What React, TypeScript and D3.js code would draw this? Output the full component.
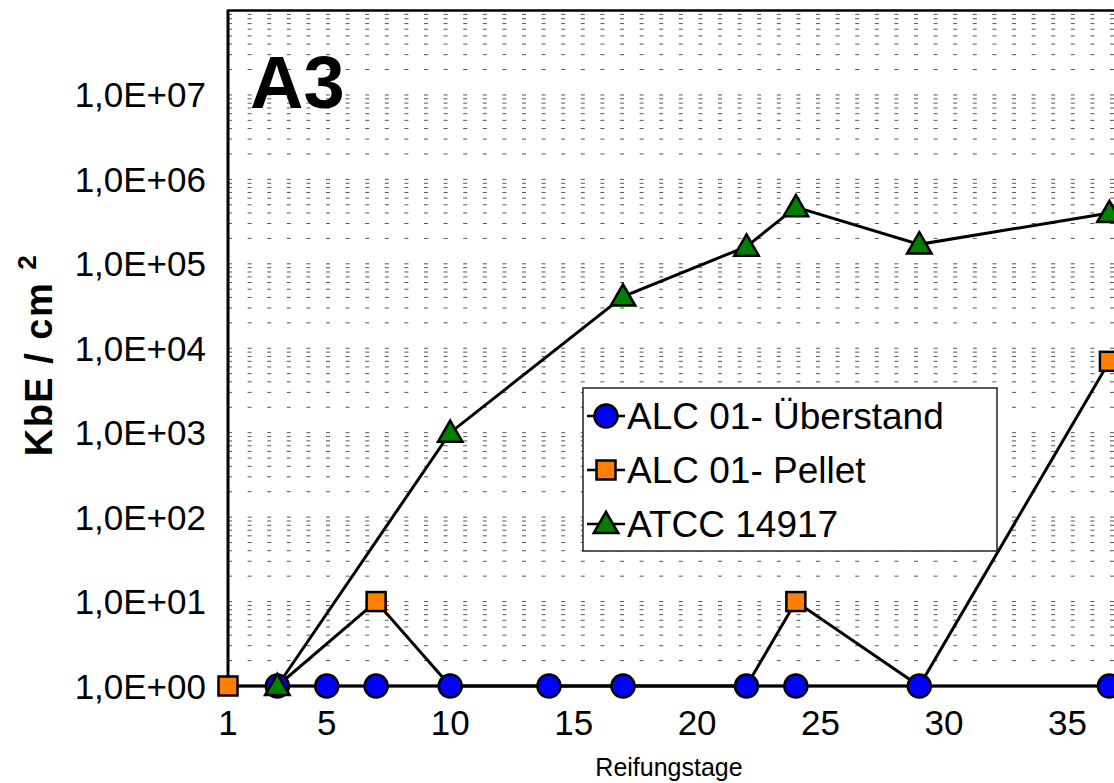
import React from "react";
import * as d3 from "d3";

// Ripening days and colony counts (KbE / cm²) per series
const ueberstandDays = [3, 5, 7, 10, 14, 17, 22, 24, 29, 36.7];
const ueberstandValues = [1, 1, 1, 1, 1, 1, 1, 1, 1, 1];

// 0 = not detected: drawn on the baseline, no marker
const pelletDays = [1, 3, 7, 10, 14, 17, 22, 24, 29, 36.7];
const pelletValues = [1, 0, 10, 0, 0, 0, 0, 10, 0, 7000];

const atccDays = [3, 10, 17, 22, 24, 29, 36.7];
const atccValues = [1, 1000, 41000, 160000, 470000, 170000, 400000];

const xTickValues = [1, 5, 10, 15, 20, 25, 30, 35];
const yTickValues = [1e0, 1e1, 1e2, 1e3, 1e4, 1e5, 1e6, 1e7];
const yTickLabels = [
  "1,0E+00",
  "1,0E+01",
  "1,0E+02",
  "1,0E+03",
  "1,0E+04",
  "1,0E+05",
  "1,0E+06",
  "1,0E+07",
];

const legendNames = ["ALC 01- Überstand", "ALC 01- Pellet", "ATCC 14917"];

const W = 1114;
const H = 783;
const plot = { left: 228, top: 10.5, bottom: 686 };
const FONT = "'Liberation Sans', Arial, sans-serif";

const x = d3.scaleLinear().domain([1, 38]).range([plot.left, plot.left + 37 * 24.69]);
const y = d3.scaleLog().domain([1, 1e8]).range([plot.bottom, plot.top]).clamp(true);

type Pt = { d: number; v: number };
const zip = (ds: number[], vs: number[]): Pt[] => ds.map((d, i) => ({ d, v: vs[i] }));

const series = [
  { name: legendNames[0], pts: zip(ueberstandDays, ueberstandValues), shape: "circle", fill: "#0000FF" },
  { name: legendNames[1], pts: zip(pelletDays, pelletValues), shape: "square", fill: "#FF8000" },
  { name: legendNames[2], pts: zip(atccDays, atccValues), shape: "triangle", fill: "#008000" },
];

const line = d3
  .line<Pt>()
  .x((p) => x(p.d))
  .y((p) => y(Math.max(p.v, 1)));

function Marker({ shape, cx, cy, fill }: { shape: string; cx: number; cy: number; fill: string }) {
  const stroke = { stroke: "#000", strokeWidth: 2.5, fill };
  if (shape === "circle") return <circle cx={cx} cy={cy} r={11.5} {...stroke} />;
  if (shape === "square")
    return <rect x={cx - 9.5} y={cy - 9.5} width={19} height={19} {...stroke} />;
  const tri = d3.symbol(d3.symbolTriangle, 260)();
  return <path d={tri || ""} transform={`translate(${cx},${cy + 2})`} {...stroke} />;
}

export default function App() {
  // minor log gridlines 2..9 x 10^k plus decades, below the top border
  const grid: number[] = [];
  for (let k = 0; k < 8; k++) {
    for (let m = 1; m <= 9; m++) {
      const v = m * Math.pow(10, k);
      if (v > 1) grid.push(v);
    }
  }
  const right = W + 40;

  const legend = { x: 583, y: 388, w: 414, h: 163, rowY: [416, 470, 524] };

  return (
    <svg
      width={W}
      height={H}
      style={{ position: "absolute", left: 0, top: 0, background: "#fff" }}
      fontFamily={FONT}
    >
      <rect width={W} height={H} fill="#fff" />
      {/* gridlines */}
      <g>
        {grid.map((v) => (
          <line
            key={v}
            x1={plot.left}
            x2={right}
            y1={y(v)}
            y2={y(v)}
            stroke="#555"
            strokeWidth={1}
            strokeDasharray="4 15.6"
          />
        ))}
      </g>

      {/* panel label */}
      <text x={250} y={108} fontSize={74} fontWeight="bold" fill="#000">
        A3
      </text>

      {/* axes frame */}
      <line x1={plot.left} x2={right} y1={plot.top} y2={plot.top} stroke="#000" strokeWidth={2.5} />
      <line x1={plot.left} x2={plot.left} y1={plot.top - 1} y2={plot.bottom} stroke="#000" strokeWidth={3} />
      <line x1={plot.left} x2={right} y1={plot.bottom} y2={plot.bottom} stroke="#000" strokeWidth={2.5} />

      {/* y tick labels */}
      {yTickValues.map((v, i) => (
        <text
          key={v}
          x={206}
          y={y(v)}
          textAnchor="end"
          dominantBaseline="central"
          fontSize={35}
          fill="#000"
        >
          {yTickLabels[i]}
        </text>
      ))}

      {/* x tick labels */}
      {xTickValues.map((d) => (
        <text key={d} x={x(d)} y={722} textAnchor="middle" dominantBaseline="central" fontSize={35} fill="#000">
          {d}
        </text>
      ))}

      {/* axis titles */}
      <text x={669} y={767} textAnchor="middle" dominantBaseline="central" fontSize={25} fill="#000">
        Reifungstage
      </text>
      <text
        transform="translate(52,355) rotate(-90)"
        textAnchor="middle"
        fontSize={38}
        fontWeight="bold"
        letterSpacing={1.5}
        fill="#000"
      >
        KbE / cm <tspan dy={-16} fontSize={26}>2</tspan>
      </text>

      {/* series lines */}
      {series.map((s) => (
        <path key={s.name} d={line(s.pts) || ""} fill="none" stroke="#000" strokeWidth={3} />
      ))}

      {/* markers */}
      {series.map((s) =>
        s.pts
          .filter((p) => p.v > 0)
          .map((p, i) => (
            <Marker key={s.name + i} shape={s.shape} cx={x(p.d)} cy={y(p.v)} fill={s.fill} />
          ))
      )}

      {/* legend */}
      <g>
        <rect
          x={legend.x}
          y={legend.y}
          width={legend.w}
          height={legend.h}
          fill="#fff"
          stroke="#222"
          strokeWidth={1.5}
        />
        {series.map((s, i) => (
          <g key={s.name}>
            <line x1={587} x2={625} y1={legend.rowY[i]} y2={legend.rowY[i]} stroke="#000" strokeWidth={2.5} />
            <Marker shape={s.shape} cx={606} cy={legend.rowY[i]} fill={s.fill} />
            <text x={627} y={legend.rowY[i]} dominantBaseline="central" fontSize={37} fill="#000">
              {s.name}
            </text>
          </g>
        ))}
      </g>
    </svg>
  );
}
